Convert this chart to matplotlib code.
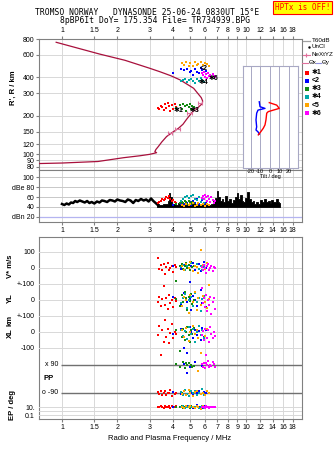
import matplotlib
matplotlib.use("Agg")
import matplotlib.pyplot as plt
from matplotlib.ticker import FixedLocator, FixedFormatter, NullLocator

plt.rcParams['font.family'] = ['Liberation Sans', 'DejaVu Sans']

W, H = 335, 451

freq_ticks = [1, 1.5, 2, 3, 4, 5, 6, 7, 8, 9, 10, 12, 14, 16, 18]
freq_labels = ['1', '1.5', '2', '3', '4', '5', '6', '7', '8', '9', '10', '12', '14', '16', '18']
height_ticks = [80, 90, 100, 120, 150, 200, 300, 400, 600, 800]

# plasma frequency profile, MHz vs km
prof_f = [0.75, 1.0, 1.57, 2.16, 2.66, 3.0, 3.18, 3.27, 3.2, 3.24, 3.34, 3.49, 3.71, 4.03,
          4.3, 4.55, 4.8, 5.1, 5.5, 5.8, 5.82, 5.72, 5.2, 4.4, 3.9, 3.4, 3.0, 2.2, 1.6, 0.93]
prof_h = [84.7, 85.5, 87.9, 94.1, 97.5, 100, 102, 103, 105, 109, 115, 125, 138, 150,
          160, 172, 191, 213, 233, 250, 262, 278, 329, 382, 413, 444, 472, 545, 610, 754]

# NeXtYZ error bars
err_f = [3.87, 4.24, 4.93, 5.29, 5.63]
err_h = [148, 157, 210, 228, 254]
err_df = [0.12, 0.13, 0.15, 0.16, 0.17]

# tilt profiles, deg vs km
tx_deg = [-0.6, 7.1, 9.8, 3.6, -1.7, -3.3, -4.1, -5.1, -6.9, -9.6, -12.1]
tx_h = [254, 243, 229, 222, 216, 210, 186, 170, 160, 150, 142]
ty_deg = [-11.1, -10.3, -5.1, -12.4, -13.8, -14.5, -13.8, -14.5, -12.4, -11.1]
ty_h = [258, 236, 229, 222, 210, 186, 164, 155, 150, 144]

# receiver noise, dB
noise_f = [1.00, 1.03, 1.06, 1.09, 1.12, 1.15, 1.18, 1.21, 1.25, 1.29, 1.33, 1.37, 1.41, 1.45,
           1.50, 1.55, 1.60, 1.65, 1.70, 1.76, 1.82, 1.88, 1.94, 2.00, 2.07, 2.14, 2.21, 2.28,
           2.36, 2.44, 2.52, 2.60, 2.69, 2.78, 2.87, 2.96, 3.05, 3.14, 3.23, 3.32]
noise_db = [46, 44, 47, 45, 49, 48, 52, 50, 53, 51, 49, 52, 48, 50,
            47, 51, 49, 53, 52, 50, 54, 53, 51, 55, 53, 52, 50, 55,
            53, 48, 54, 52, 56, 53, 55, 51, 57, 52, 48, 44]
amp_f = [3.30, 3.40, 3.50, 3.60, 3.70, 3.80, 3.86, 3.92, 4.00, 4.10, 4.20, 4.30, 4.45, 4.60,
         4.75, 4.90, 5.05, 5.20, 5.35, 5.50, 5.65, 5.80, 5.95, 6.10, 6.25, 6.40, 6.55, 6.70,
         6.85, 7.00, 7.15, 7.30, 7.45, 7.60, 7.80, 8.00, 8.20, 8.40, 8.60, 8.80, 9.00, 9.20,
         9.40, 9.60, 9.80, 10.0, 10.25, 10.5, 10.75, 11.0, 11.25, 11.5, 11.8, 12.1, 12.4,
         12.7, 13.0, 13.3, 13.6, 13.9, 14.2, 14.5, 14.8, 15.1, 15.3]
amp_db = [45, 44, 44, 45, 46, 52, 68, 60, 46, 45, 44, 47, 44, 45,
          44, 46, 44, 45, 46, 44, 45, 44, 46, 44, 45, 44, 46, 52,
          58, 72, 60, 52, 55, 50, 62, 52, 57, 48, 54, 60, 69, 55,
          65, 51, 49, 58, 70, 56, 49, 52, 46, 50, 45, 53, 50,
          55, 49, 52, 47, 54, 50, 49, 56, 50, 48]

# echo classes: freq, range, amplitude, V*, YL, XL, PP, EP
f1 = [3.32, 3.38, 3.45, 3.52, 3.58, 3.64, 3.70, 3.76, 3.82, 3.88, 3.95, 4.02, 4.10, 4.18]
rng1 = [232, 226, 240, 236, 222, 246, 230, 252, 238, 218, 244, 228, 250, 236]
amp1 = [48, 50, 52, 55, 53, 57, 60, 58, 62, 56, 51, 54, 49, 47]
vs1 = [64, -5, 18, -10, 25, -40, 8, 30, -15, 2, 12, -25, 20, 5]
yl1 = [-10, 20, -40, 5, 88, -30, 15, -55, 30, -20, 0, -45, 10, -5]
xl1 = [-20, 40, -144, 10, -60, 75, -30, 20, -70, -5, 50, -40, 0, -15]
pp1 = [-85, -95, -75, -100, -90, -80, -105, -88, -92, -70, -110, -85, -95, -90]
ep1 = [12, 8, 15, 10, 6, 20, 11, 9, 14, 7, 18, 10, 12, 16]

f2 = [4.02, 4.45, 4.62, 4.80, 4.95, 5.05, 5.18, 5.30, 5.42, 5.55, 5.68, 5.80, 5.92, 6.05]
rng2 = [431, 462, 455, 470, 440, 452, 420, 466, 445, 430, 478, 458, 440, 450]
amp2 = [44, 46, 45, 48, 50, 44, 52, 47, 55, 46, 50, 53, 45, 48]
vs2 = [10, -5, 20, 0, -90, 15, 30, -10, 5, 25, -20, 8, 35, 0]
yl2 = [20, -30, 45, -10, 5, -60, 25, 0, -35, 15, 60, -20, 10, -45]
xl2 = [-10, 20, -102, -133, 30, 0, -40, 15, -20, 5, -50, 25, -30, 10]
pp2 = [-85, -95, 95, 39, 75, -90, -100, 110, -88, -75, -95, 85, -82, -92]
ep2 = [8, 12, 5, 20, 10, 15, 7, 11, 25, 9, 13, 6, 18, 10]

f3 = [4.17, 4.40, 4.50, 4.58, 4.65, 4.72, 4.80, 4.88, 4.95, 5.02, 5.10, 5.20]
rng3 = [232, 245, 226, 250, 238, 220, 242, 235, 248, 228, 240, 236]
amp3 = [46, 48, 50, 47, 52, 49, 45, 51, 48, 46, 50, 47]
vs3 = [-81, 10, 25, -5, 15, 30, 0, 20, -10, 35, 5, 12]
yl3 = [5, -40, 30, -15, 50, 10, -60, 20, -5, 40, -25, 0]
xl3 = [10, -117, -30, 20, -50, 0, 30, -20, -60, 15, -10, 25]
pp3 = [95, 80, -90, 110, 70, 100, 88, 105, -80, 92, 78, 85]
ep3 = [10, 8, 14, 6, 12, 20, 9, 11, 7, 15, 10, 13]

f4 = [4.42, 4.55, 4.68, 4.80, 4.92, 5.05, 5.18, 5.30, 5.42, 5.55, 5.68, 5.80, 5.95]
rng4 = [372, 380, 390, 368, 385, 392, 375, 362, 388, 378, 395, 384, 370]
amp4 = [52, 55, 60, 63, 58, 62, 65, 57, 54, 60, 50, 56, 48]
vs4 = [5, 20, -10, 15, 0, 30, -20, 10, 25, -5, 12, -15, 8]
yl4 = [-20, 10, 35, -50, 0, 20, -35, 45, -10, 15, -70, 5, 25]
xl4 = [15, -25, 5, -45, 30, -10, 20, -60, 0, 35, -20, 10, -35]
pp4 = [-85, -100, -70, -95, -110, -80, -90, -75, -105, -88, -95, -65, -100]
ep4 = [9, 14, 6, 11, 20, 8, 13, 10, 16, 5, 12, 18, 7]

f5 = [4.50, 4.62, 4.75, 4.88, 5.00, 5.15, 5.30, 5.45, 5.52, 5.68, 5.85, 6.00, 6.15, 6.33]
rng5 = [520, 505, 530, 495, 515, 490, 525, 500, 512, 528, 498, 518, 508, 488]
amp5 = [44, 42, 46, 43, 45, 48, 42, 44, 47, 43, 46, 42, 45, 44]
vs5 = [15, -10, 25, 0, 35, -20, 10, 5, -30, 112, 20, -5, 30, -106]
yl5 = [-40, 20, 0, -80, 30, -15, 50, -60, 10, -30, 25, -10, -50, 5]
xl5 = [10, -30, 25, -55, 0, 35, -15, 15, -40, -133, 5, -25, 20, -60]
pp5 = [-95, -80, -100, -70, -90, -110, -85, -75, 52, -95, -88, -100, -80, -92]
ep5 = [11, 7, 15, 9, 22, 12, 6, 14, 10, 3, 18, 8, 13, 11]

f6 = [5.75, 5.85, 5.92, 6.00, 6.08, 6.15, 6.22, 6.30, 6.40, 6.50, 6.60, 6.72, 6.82]
rng6 = [430, 415, 440, 405, 425, 398, 435, 410, 420, 400, 428, 412, 405]
amp6 = [58, 62, 55, 65, 60, 52, 63, 57, 50, 61, 54, 48, 52]
vs6 = [5, -15, 20, 0, -30, 10, 25, -10, 0, 15, -20, 8, 2]
yl6 = [73, -20, 10, -45, 30, -70, 0, -30, 20, -90, -10, 15, -55]
xl6 = [-20, 5, -50, 20, -145, -35, 10, -60, 30, -15, -40, 0, -25]
pp6 = [95, 80, 105, 70, 100, 88, 115, 75, 92, 85, 110, 98, 80]
ep6 = [10, 8, 12, 6, 14, 9, 11, 7, 10, 13, 8, 12, 9]

classes = [
    ('\u27311', '#ff0000', f1, rng1, amp1, vs1, yl1, xl1, pp1, ep1),
    ('<2', '#0000ff', f2, rng2, amp2, vs2, yl2, xl2, pp2, ep2),
    ('\u27313', '#138a13', f3, rng3, amp3, vs3, yl3, xl3, pp3, ep3),
    ('\u27314', '#00a8a8', f4, rng4, amp4, vs4, yl4, xl4, pp4, ep4),
    ('<5', '#ffa500', f5, rng5, amp5, vs5, yl5, xl5, pp5, ep5),
    ('\u27316', '#ff00ff', f6, rng6, amp6, vs6, yl6, xl6, pp6, ep6),
]

GRID = '#d8d8d8'
FRAME = '#808080'
PT = dict(s=4, marker='s', linewidths=0, zorder=4)

fig = plt.figure(figsize=(W / 100, H / 100), dpi=100)


def box(l, t, r, b):
    return [l / W, 1 - b / H, (r - l) / W, (b - t) / H]


def freq_axis(ax):
    ax.set_xscale('log')
    ax.set_xlim(0.75, 20.2)
    ax.xaxis.set_major_locator(FixedLocator(freq_ticks))
    ax.xaxis.set_major_formatter(FixedFormatter(freq_labels))
    ax.xaxis.set_minor_locator(NullLocator())
    ax.grid(True, axis='x', color=GRID, lw=0.7)
    ax.set_axisbelow(True)
    ax.tick_params(axis='both', labelsize=5, length=2, color=FRAME, pad=1.5)
    for s in ax.spines.values():
        s.set_color(FRAME)
        s.set_linewidth(0.8)


# ---- height panel
ax_h = fig.add_axes(box(39, 39, 302, 170))
freq_axis(ax_h)
ax_h.tick_params(axis='x', top=True, labeltop=True, bottom=False, labelbottom=False)
ax_h.set_yscale('log')
ax_h.set_ylim(75.4, 800)
ax_h.yaxis.set_major_locator(FixedLocator(height_ticks))
ax_h.yaxis.set_major_formatter(FixedFormatter([str(v) for v in height_ticks]))
ax_h.yaxis.set_minor_locator(NullLocator())
ax_h.grid(True, axis='y', color=GRID, lw=0.7)
ax_h.plot(prof_f, prof_h, color='#a8103c', lw=0.9, zorder=3)
ax_h.errorbar(err_f, err_h, xerr=err_df, fmt='none', ecolor='#e0709c',
              elinewidth=0.8, capsize=1.6, capthick=0.8, zorder=3)
for lab, c, f, rng, *_ in classes:
    ax_h.scatter(f, rng, color=c, **PT)
for lab, x, y in [('\u27311', 4.02, 222), ('\u27313', 4.97, 220), ('\u27314', 5.52, 364),
                  ('\u27316', 6.24, 394), ('<2', 5.6, 472)]:
    ax_h.text(x, y, lab, fontsize=5, fontweight='bold', ha='left', va='center', zorder=5)

# ---- amplitude panel
ax_db = fig.add_axes(box(39, 170, 302, 222))
freq_axis(ax_db)
ax_db.set_ylim(10, 114)
ax_db.yaxis.set_major_locator(FixedLocator([100, 80, 60, 40, 20]))
ax_db.yaxis.set_major_formatter(FixedFormatter(['100', 'dBe 80', '60', '40', 'dBn 20']))
for v in [100, 80, 60, 40]:
    ax_db.axhline(v, color='#c8c8c8', lw=0.7, zorder=1)
ax_db.axhline(20, color='#b4b4f0', lw=0.9, zorder=1)
ax_db.plot(noise_f, noise_db, color='k', lw=1.8, zorder=3)
ax_db.fill_between(amp_f, 40, amp_db, step='mid', color='k', lw=0.6, zorder=3)
for lab, c, f, rng, amp, *_ in classes:
    ax_db.scatter(f, amp, color=c, **PT)

# ---- tilt inset
ax_t = fig.add_axes(box(242.7, 66, 298.3, 168.3))
ax_t.set_xlim(-28.4, 29.7)
ax_t.set_yscale('log')
ax_t.set_ylim(77.7, 492)
ax_t.yaxis.set_major_locator(NullLocator())
ax_t.yaxis.set_minor_locator(NullLocator())
ax_t.set_xticks([-20, -10, 0, 10, 20])
ax_t.set_xticklabels(['-20', '-10', '0', '10', '20'])
ax_t.tick_params(axis='x', labelsize=4, length=0, pad=0.5)
ax_t.grid(True, axis='x', color='#a8a8c4', lw=0.7)
ax_t.set_xlabel('Tilt / deg', fontsize=4, labelpad=0)
for s in ax_t.spines.values():
    s.set_color('#a8a8c4')
    s.set_linewidth(0.8)
ax_t.plot(ty_deg, ty_h, color='#0000ff', lw=1.0)
ax_t.plot(tx_deg, tx_h, color='#ff0000', lw=1.0)

# ---- echo parameter panel
ax_lo = fig.add_axes(box(39, 237, 302, 419))
freq_axis(ax_lo)
ax_lo.set_yticks([])


def row_axes(t, b, ylim, ticks, labels, grid=None, log=False):
    ax = fig.add_axes(box(39, t, 302, b), sharex=ax_lo)
    ax.patch.set_visible(False)
    for s in ax.spines.values():
        s.set_visible(False)
    if log:
        ax.set_yscale('log')
    ax.set_ylim(*ylim)
    ax.yaxis.set_major_locator(FixedLocator(ticks))
    ax.yaxis.set_major_formatter(FixedFormatter(labels))
    ax.yaxis.set_minor_locator(NullLocator())
    ax.tick_params(axis='y', length=0, pad=3, labelsize=5)
    ax.tick_params(axis='x', which='both', bottom=False, labelbottom=False)
    for v in (grid if grid is not None else ticks):
        ax.axhline(v, color=GRID, lw=0.7, zorder=1)
    return ax


ax_v = row_axes(244, 292, (-150, 150), [100, 0, -100], ['100', '0', '+-100'])
ax_yl = row_axes(276, 324, (-150, 150), [0, -100], ['0', '+-100'])
ax_xl = row_axes(308, 356, (-150, 150), [0, -100], ['0', '-100'])
ax_pp = row_axes(351, 407, (-180, 180), [], [], grid=[])
ax_ep = row_axes(403, 419, (0.0129, 92), [10, 0.1], ['10.', '0.1'], grid=[10, 1, 0.1], log=True)

ax_pp.hlines([90, -90], 0.985, 20.2, color='#707070', lw=1.0, zorder=1)
ax_pp.text(0.955, 90, 'x 90', fontsize=5, ha='right', va='center')
ax_pp.text(0.955, -90, 'o -90', fontsize=5, ha='right', va='center')

for lab, c, f, rng, amp, vs, yl, xl, pp, ep in classes:
    ax_v.scatter(f, vs, color=c, **PT)
    ax_yl.scatter(f, yl, color=c, **PT)
    ax_xl.scatter(f, xl, color=c, **PT)
    ax_pp.scatter(f, pp, color=c, **PT)
    ax_ep.scatter(f, ep, color=c, **PT)

# ---- labels, title and key in pixel space
ax_px = fig.add_axes([0, 0, 1, 1])
ax_px.set_xlim(0, W)
ax_px.set_ylim(H, 0)
ax_px.axis('off')
ax_px.patch.set_visible(False)

mono = dict(family='DejaVu Sans Mono', fontsize=5.8, va='center', ha='left')
ax_px.text(35, 12.2, 'TROMSO NORWAY   DYNASONDE 25-06-24 0830UT 15\u00b0E', **mono)
ax_px.text(60, 20.3, '8pBP6It DoY= 175.354 File= TR734939.BPG', **mono)
ax_px.text(302.5, 7.8, 'HPTx is OFF!', family='DejaVu Sans Mono', fontsize=5.5,
           color='#ff0000', ha='center', va='center',
           bbox=dict(boxstyle='square,pad=0.25', fc='#ffff00', ec='#ff0000', lw=0.8))

lab_kw = dict(fontsize=5.5, fontweight='bold', rotation=90, ha='center', va='center')
ax_px.text(13, 88, "R', R / km", **lab_kw)
ax_px.text(10, 266, 'V* m/s', **lab_kw)
ax_px.text(10, 298, 'YL', **lab_kw)
ax_px.text(10, 320, 'km', **lab_kw)
ax_px.text(10, 333, 'XL', **lab_kw)
ax_px.text(13, 405, 'EP / deg', **lab_kw)
ax_px.text(43, 379, 'PP', fontsize=5.5, fontweight='bold', ha='left', va='center')
ax_px.text(170, 439, 'Radio and Plasma Frequency / MHz', fontsize=5.5, ha='center', va='center')

key = dict(fontsize=4.5, ha='left', va='center')
ax_px.plot([303, 310], [41, 41], color='#a0a0a0', lw=0.9)
ax_px.text(312, 41, 'T60dB', **key)
ax_px.plot([309], [47], marker='.', color='k', ms=1.5)
ax_px.text(312, 47, 'UnCl', **key)
ax_px.plot([303, 310], [54.7, 54.7], color='#e0709c', lw=0.8)
ax_px.plot([305.5], [54.7], marker='+', color='#e0709c', ms=3, mew=0.8)
ax_px.text(311, 54.7, 'NeXtYZ', **key)
ax_px.plot([302, 308], [62.7, 62.7], color='#e0709c', lw=0.8)
ax_px.text(308.5, 62.7, '\u0398x', **key)
ax_px.plot([316, 321], [62.7, 62.7], color='#9090e0', lw=0.8)
ax_px.text(321.5, 62.7, '\u0398y', **key)
for i, (lab, c, *_) in enumerate(classes):
    y = 72.7 + i * 8.1
    ax_px.plot([306.7], [y], marker='s', color=c, ms=2.6, mew=0)
    ax_px.text(312, y, lab, fontsize=5, fontweight='bold', ha='left', va='center')

fig.savefig('out.png', dpi=100)
